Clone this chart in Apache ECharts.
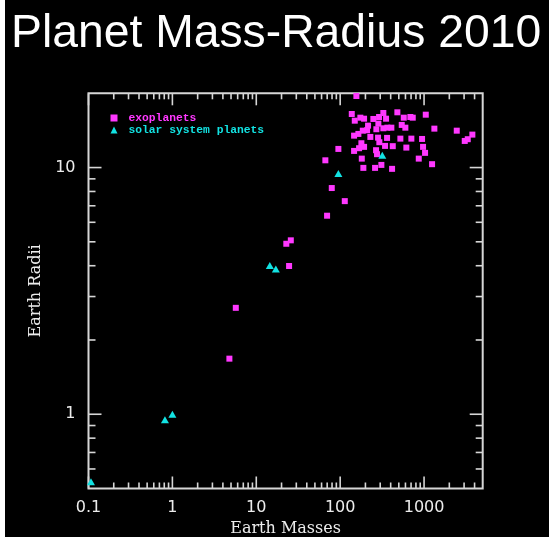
<!DOCTYPE html>
<html>
<head>
<meta charset="utf-8">
<title>Planet Mass-Radius 2010</title>
<script src="https://cdn.jsdelivr.net/npm/echarts@6/dist/echarts.min.js"></script>
<style>
  html, body { margin: 0; padding: 0; background: #000; }
  #chart { width: 549px; height: 537px; }
</style>
</head>
<body>
<div id="chart"></div>
<script>
// Exoplanets: mass and radius in Earth units
const exoMass = [
  25.8, 22.8, 24.6, 5.70, 4.78,
  95.2, 66.6, 79.4, 113.5, 69.8,
  146.5, 179, 192.7, 168, 181, 189, 260.6, 309.8, 415.6,
  342.8, 423.6, 156, 137.5, 149.3, 174, 192.7, 146.5, 164.8,
  186, 209.3, 215, 229, 248.7, 290.8, 327, 352.4, 285.3,
  270, 327, 365, 407.5, 480.6, 572.9, 686.6, 733, 1048,
  542, 598.6, 1327, 2453, 3765, 3318, 3055, 283, 293,
  362.2, 267.8, 275, 521.9, 705.7, 946.4, 615, 972.8, 1028,
  864.6, 1246
];
const exoRadius = [
  5.07, 4.91, 3.99, 2.70, 1.68,
  11.9, 10.7, 8.26, 7.31, 6.38,
  11.68, 12.55, 12.13, 11.98, 10.87, 9.97, 9.97, 10.25, 9.88,
  12.24, 12.21, 19.5, 16.49, 15.49, 15.93, 15.78, 13.47, 13.69,
  14.11, 14.16, 14.79, 13.31, 15.74, 16.03, 16.64, 15.78, 15.07,
  14.30, 14.43, 14.51, 14.51, 16.75, 15.93, 16.03, 15.93, 16.38,
  14.89, 14.51, 14.38, 14.11, 13.6, 13.03, 12.82, 13.22, 12.67,
  13.19, 11.76, 11.33, 13.10, 13.10, 13.06, 12.05, 12.13, 11.47,
  10.87, 10.32
];

// Solar system planets (Mercury falls outside the plotted range)
const solarNames  = ['Mars', 'Venus', 'Earth', 'Uranus', 'Neptune', 'Saturn', 'Jupiter'];
const solarMass   = [0.107, 0.815, 1, 14.5, 17.1, 95.2, 317.8];
const solarRadius = [0.532, 0.949, 1, 4.01, 3.88, 9.45, 11.21];

// Axis ranges, decade labels and tick positions
const xRange = [0.1, 5000];
const yRange = [0.5, 20];
const xMajorTicks = [0.1, 1, 10, 100, 1000];
const xTickLabels = ['0.1', '1', '10', '100', '1000'];
const yMajorTicks = [1, 10];
const yTickLabels = ['1', '10'];
const xMinorTicks = [
  0.2, 0.3, 0.4, 0.5, 0.6, 0.7, 0.8, 0.9,
  2, 3, 4, 5, 6, 7, 8, 9,
  20, 30, 40, 50, 60, 70, 80, 90,
  200, 300, 400, 500, 600, 700, 800, 900,
  2000, 3000, 4000
];
const yMinorTicks = [0.6, 0.7, 0.8, 0.9, 2, 3, 4, 5, 6, 7, 8, 9];

const AXIS_COLOR = '#d6d6d6';
const TEXT_COLOR = '#ececec';
const EXO_COLOR = '#ff38ff';
const SOLAR_COLOR = '#12e2e2';

function labelFor(value, ticks, labels) {
  for (let i = 0; i < ticks.length; i++) {
    if (Math.abs(Math.log10(value) - Math.log10(ticks[i])) < 1e-6) return labels[i];
  }
  return '';
}

// Inward ticks on all four sides of the frame, placed through the axis scales
function tickSeries(values, dir, len) {
  return {
    type: 'custom',
    silent: true,
    clip: false,
    z: 4,
    data: values.map(v => dir === 'x' ? [v, 1] : [1, v]),
    renderItem: function (params, api) {
      const style = { stroke: AXIS_COLOR, lineWidth: 1.6 };
      if (dir === 'x') {
        const v = api.value(0);
        const b = api.coord([v, yRange[0]]);
        const t = api.coord([v, yRange[1]]);
        return {
          type: 'group',
          children: [
            { type: 'line', shape: { x1: b[0], y1: b[1], x2: b[0], y2: b[1] - len }, style: style },
            { type: 'line', shape: { x1: t[0], y1: t[1], x2: t[0], y2: t[1] + len }, style: style }
          ]
        };
      }
      const v = api.value(1);
      const l = api.coord([xRange[0], v]);
      const r = api.coord([xRange[1], v]);
      return {
        type: 'group',
        children: [
          { type: 'line', shape: { x1: l[0], y1: l[1], x2: l[0] + len, y2: l[1] }, style: style },
          { type: 'line', shape: { x1: r[0], y1: r[1], x2: r[0] - len, y2: r[1] }, style: style }
        ]
      };
    }
  };
}

const chart = echarts.init(document.getElementById('chart'), null, { renderer: 'canvas' });

chart.setOption({
  backgroundColor: '#000',
  animation: false,
  graphic: [
    { type: 'rect', left: 0, top: 0, shape: { width: 5, height: 537 }, style: { fill: '#fff' }, silent: true }
  ],
  title: {
    text: 'Planet Mass-Radius 2010',
    left: 11,
    top: 11,
    padding: 0,
    textStyle: {
      color: '#fff',
      fontFamily: 'Liberation Sans',
      fontWeight: 'normal',
      fontSize: 46.3
    }
  },
  legend: {
    orient: 'vertical',
    left: 110.5,
    top: 112,
    padding: 0,
    itemWidth: 7,
    itemHeight: 7,
    itemGap: 0,
    selectedMode: false,
    data: [
      { name: 'exoplanets', icon: 'rect', textStyle: { color: EXO_COLOR } },
      { name: 'solar system planets', icon: 'triangle', textStyle: { color: SOLAR_COLOR } }
    ],
    textStyle: {
      fontFamily: 'Liberation Mono',
      fontWeight: 'bold',
      fontSize: 11.3,
      lineHeight: 12,
      padding: [0, 0, 0, 6]
    }
  },
  grid: {
    left: 88.5,
    right: 66.3,
    top: 93.3,
    bottom: 48.5,
    outerBoundsMode: 'none',
    containLabel: false,
    show: true,
    borderColor: AXIS_COLOR,
    borderWidth: 2,
    backgroundColor: 'transparent'
  },
  xAxis: {
    type: 'log',
    logBase: 10,
    min: xRange[0],
    max: xRange[1],
    axisLine: { show: false },
    axisTick: { show: false },
    splitLine: { show: false },
    axisLabel: {
      color: TEXT_COLOR,
      fontFamily: 'DejaVu Sans',
      fontSize: 16,
      margin: 11,
      formatter: v => labelFor(v, xMajorTicks, xTickLabels)
    },
    name: 'Earth Masses',
    nameLocation: 'middle',
    nameGap: 31,
    nameTextStyle: {
      color: TEXT_COLOR,
      fontFamily: 'DejaVu Serif',
      fontSize: 16
    }
  },
  yAxis: {
    type: 'log',
    logBase: 10,
    min: yRange[0],
    max: yRange[1],
    axisLine: { show: false },
    axisTick: { show: false },
    splitLine: { show: false },
    axisLabel: {
      color: TEXT_COLOR,
      fontFamily: 'DejaVu Sans',
      fontSize: 16,
      margin: 13,
      formatter: v => labelFor(v, yMajorTicks, yTickLabels)
    },
    name: 'Earth Radii',
    nameLocation: 'middle',
    nameGap: 36,
    nameRotate: 90,
    nameTextStyle: {
      color: TEXT_COLOR,
      fontFamily: 'DejaVu Serif',
      fontSize: 16
    }
  },
  series: [
    tickSeries(xMajorTicks, 'x', 12),
    tickSeries(xMinorTicks, 'x', 6),
    tickSeries(yMajorTicks, 'y', 13),
    tickSeries(yMinorTicks, 'y', 7),
    {
      name: 'exoplanets',
      type: 'scatter',
      symbol: 'rect',
      symbolSize: 6,
      z: 5,
      itemStyle: { color: EXO_COLOR, opacity: 1 },
      data: exoMass.map((m, i) => [m, exoRadius[i]])
    },
    {
      name: 'solar system planets',
      type: 'scatter',
      symbol: 'triangle',
      symbolSize: [8, 7],
      z: 6,
      itemStyle: { color: SOLAR_COLOR, opacity: 1 },
      data: solarMass.map((m, i) => ({ name: solarNames[i], value: [m, solarRadius[i]] }))
    }
  ]
});
</script>
</body>
</html>
